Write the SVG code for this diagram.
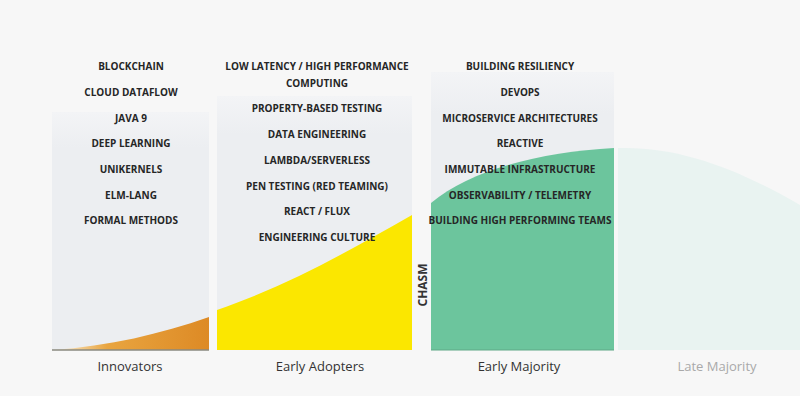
<svg xmlns="http://www.w3.org/2000/svg" width="800" height="396" viewBox="0 0 800 396">
<style>
.item{font-family:"Open Sans","Liberation Sans",sans-serif;font-weight:700;font-size:10px;fill:#262626;text-anchor:middle}
.lbl{font-family:"Open Sans","Liberation Sans",sans-serif;font-size:13px;fill:#333;text-anchor:middle}
</style>
<defs>
<linearGradient id="panel" x1="0" y1="0" x2="0" y2="1">
<stop offset="0" stop-color="#f3f4f6"/>
<stop offset="0.15" stop-color="#eceef1"/>
<stop offset="1" stop-color="#eceef1"/>
</linearGradient>
<linearGradient id="orange" x1="0" y1="0" x2="1" y2="0">
<stop offset="0" stop-color="#fbf3e0"/>
<stop offset="0.35" stop-color="#e9a540"/>
<stop offset="1" stop-color="#dd8a25"/>
</linearGradient>
</defs>
<rect width="800" height="396" fill="#f7f7f7"/>
<g id="late-majority">
<path d="M618 350 L618 148 C680 146 740 170 800 205 L800 350 Z" fill="#e9f3f1"/>
<text class="lbl" x="717" y="371" fill="#a9a9a9" style="fill:#a9a9a9">Late Majority</text>
</g>
<g id="innovators">
<rect x="52" y="112" width="157" height="238" fill="url(#panel)"/>
<path d="M52 350 C110 346 160 334 209 317 L209 350 Z" fill="url(#orange)"/>
<line x1="52" y1="350" x2="209" y2="350" stroke="#8a8a80" stroke-width="1.5"/>
<text class="item" x="131" y="70">BLOCKCHAIN</text>
<text class="item" x="131" y="96">CLOUD DATAFLOW</text>
<text class="item" x="131" y="122">JAVA 9</text>
<text class="item" x="131" y="147">DEEP LEARNING</text>
<text class="item" x="131" y="173">UNIKERNELS</text>
<text class="item" x="131" y="199">ELM-LANG</text>
<text class="item" x="131" y="224">FORMAL METHODS</text>
<text class="lbl" x="130" y="371">Innovators</text>
</g>
<g id="early-adopters">
<rect x="217" y="96" width="195" height="254" fill="url(#panel)"/>
<path d="M217 310 C290 285 350 250 412 215 L412 350 L217 350 Z" fill="#fbe700"/>
<text class="item" x="317" y="70">LOW LATENCY / HIGH PERFORMANCE</text>
<text class="item" x="317" y="87">COMPUTING</text>
<text class="item" x="317" y="112">PROPERTY-BASED TESTING</text>
<text class="item" x="317" y="138">DATA ENGINEERING</text>
<text class="item" x="317" y="164">LAMBDA/SERVERLESS</text>
<text class="item" x="317" y="190">PEN TESTING (RED TEAMING)</text>
<text class="item" x="317" y="215">REACT / FLUX</text>
<text class="item" x="317" y="241">ENGINEERING CULTURE</text>
<text class="lbl" x="320" y="371">Early Adopters</text>
</g>
<g id="chasm">
<text x="427" y="285" transform="rotate(-90 427 285)" style="font-family:'Open Sans','Liberation Sans',sans-serif;font-weight:700;font-size:12px;fill:#333;text-anchor:middle">CHASM</text>
</g>
<g id="early-majority">
<rect x="431" y="72" width="183" height="278" fill="url(#panel)"/>
<path d="M431 203 C470 170 540 152 614 148 L614 350 L431 350 Z" fill="#6cc59d"/>
<line x1="431" y1="350" x2="614" y2="350" stroke="#5fa886" stroke-width="1"/>
<text class="item" x="520" y="70">BUILDING RESILIENCY</text>
<text class="item" x="520" y="96">DEVOPS</text>
<text class="item" x="520" y="122">MICROSERVICE ARCHITECTURES</text>
<text class="item" x="520" y="147">REACTIVE</text>
<text class="item" x="520" y="173">IMMUTABLE INFRASTRUCTURE</text>
<text class="item" x="520" y="199">OBSERVABILITY / TELEMETRY</text>
<text class="item" x="520" y="224">BUILDING HIGH PERFORMING TEAMS</text>
<text class="lbl" x="519" y="371">Early Majority</text>
</g>
</svg>
